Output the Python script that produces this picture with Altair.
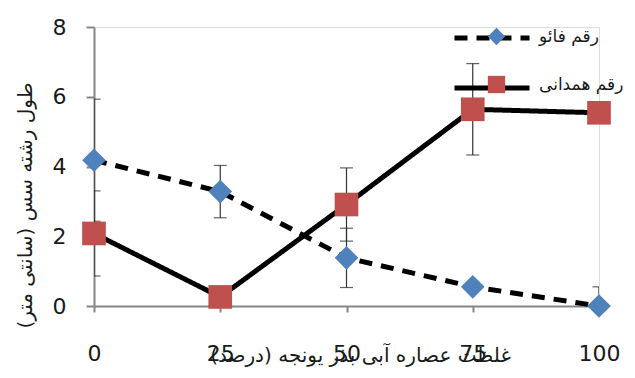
import altair as alt
import pandas as pd

# ---- data ----
x_vals = [0, 25, 50, 75, 100]
series_names = ["رقم فائو", "رقم همدانی"]
fao = [4.18, 3.28, 1.38, 0.55, 0.0]
fao_err = [1.75, 0.75, 0.85, 0.0, 0.55]
ham = [2.08, 0.26, 2.91, 5.64, 5.54]
ham_err = [1.22, 0.0, 1.05, 1.31, 0.0]
y_ticks = [0, 2, 4, 6, 8]
x_ticks = [0, 25, 50, 75, 100]
x_title = "غلظت عصاره آبی بذر یونجه (درصد)"
y_title = "طول رشته سس (سانتی متر)"

rows = []
for name, vals, errs in [(series_names[0], fao, fao_err), (series_names[1], ham, ham_err)]:
    for xv, v, e in zip(x_vals, vals, errs):
        rows.append({"x": xv, "y": v, "err": e, "series": name, "s2": name,
                     "lo": v - e, "hi": v + e})
df = pd.DataFrame(rows)
err_df = df[df["err"] > 0]

FONT = "DejaVu Sans, sans-serif"

xs = alt.Scale(domain=[0, 100], nice=False, zero=False)
ys = alt.Scale(domain=[0, 8], nice=False)

x_axis = alt.Axis(values=x_ticks, title=x_title, labelFontSize=22, labelPadding=31,
                  labelFlush=False,
                  tickSize=6, titleFontSize=20, titleFontWeight="normal",
                  titleX=266, titleY=49, titleBaseline="middle", titleAlign="center",
                  titleColor="#1a1a1a", labelColor="#1a1a1a", grid=False,
                  domainColor="#868686", tickColor="#868686", domainWidth=2, tickWidth=2)
y_axis = alt.Axis(values=y_ticks, title=y_title, labelFontSize=22, labelPadding=20,
                  tickSize=8, titleFontSize=20, titleFontWeight="normal",
                  titleX=-69, titleY=178, titleBaseline="middle", titleAlign="center",
                  titleColor="#1a1a1a", labelColor="#1a1a1a", grid=False,
                  domainColor="#868686", tickColor="#868686", domainWidth=2, tickWidth=2)

base = alt.Chart(df)

# line legend (dash pattern) - data-derived domain so it stays a separate legend
lines = base.mark_line(strokeWidth=5, color="black", strokeCap="butt").encode(
    x=alt.X("x:Q", scale=xs, axis=x_axis),
    y=alt.Y("y:Q", scale=ys, axis=y_axis),
    detail="series:N",
    strokeDash=alt.StrokeDash(
        "s2:N",
        scale=alt.Scale(range=[[13, 9], [1, 0]]),
        legend=alt.Legend(orient="none", legendX=358, legendY=-29, title=None,
                          symbolType="stroke", symbolSize=5625, symbolStrokeWidth=5,
                          symbolStrokeColor="black", labelExpr="''", padding=0,
                          rowPadding=-6),
    ),
)

err_rule = alt.Chart(err_df).mark_rule(color="#333333", strokeWidth=1.2, clip=True).encode(
    x="x:Q", y="lo:Q", y2="hi:Q")
err_lo = alt.Chart(err_df).mark_tick(orient="horizontal", size=13, thickness=1.2,
                                     color="#222222", clip=True).encode(x="x:Q", y="lo:Q")
err_hi = alt.Chart(err_df).mark_tick(orient="horizontal", size=13, thickness=1.2,
                                     color="#222222", clip=True).encode(x="x:Q", y="hi:Q")

points = base.mark_point(filled=True, opacity=1, size=560).encode(
    x="x:Q",
    y="y:Q",
    color=alt.Color("series:N", scale=alt.Scale(domain=series_names, range=["#4F81BD", "#C0504D"]),
                    legend=alt.Legend(orient="none", legendX=393, legendY=0, title=None,
                                      symbolSize=300, labelFontSize=17, labelOffset=33,
                                      labelColor="#1a1a1a", padding=0, rowPadding=23,
                                      labelLimit=200, symbolOpacity=1)),
    shape=alt.Shape("series:N", scale=alt.Scale(domain=series_names, range=["diamond", "square"])),
)

chart = alt.layer(err_rule, err_lo, err_hi, lines, points).properties(
    width=505, height=279,
    autosize=alt.AutoSizeParams(type="none"),
    padding={"left": 86, "top": 19, "right": 28, "bottom": 64},
).configure_view(stroke=None).configure(font=FONT).configure_legend(labelFont=FONT)

chart.save("out.html", embed_options={"renderer": "svg", "actions": False})
